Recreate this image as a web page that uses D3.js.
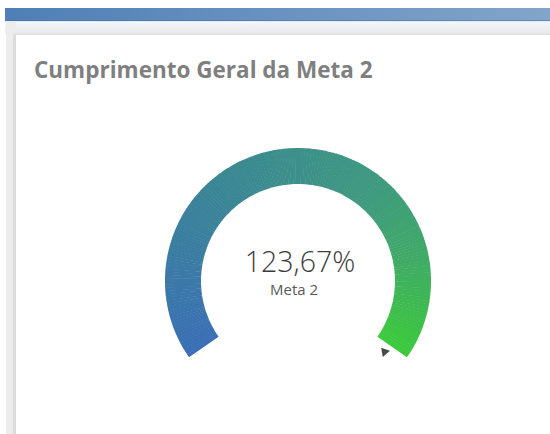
<!DOCTYPE html>
<html>
<head>
<meta charset="utf-8">
<script src="https://cdn.jsdelivr.net/npm/d3@7"></script>
<style>
  body { margin: 0; background: #fff; }
  svg { display: block; }
</style>
</head>
<body>
<script>
// Data // ----------------------------------------------------------------------
var titleText = "Cumprimento Geral da Meta 2";
var measureLabel = "Meta 2";
var gaugeValue = [1.2367];      // measure value (123,67%)
var gaugeRange = [0, 1];        // min / max of the gauge
var colorStops = [0, 0.33, 0.66, 0.82, 1];  // positions along the arc
var colorValues = ["#3b6fb6", "#3b8696", "#3f9a7f", "#40ab66", "#3cca3b"];

// Layout // --------------------------------------------------------------------
var width = 550, height = 434;
var cx = 298, cy = 281,
    outerR = 133, innerR = 97;
var deg = Math.PI / 180;

var svg = d3.select("body")
            .append("svg")
            .attr("width", width)
            .attr("height", height);

var defs = svg.append("defs");
var topGrad = defs.append("linearGradient").attr("id", "topbar");
topGrad.append("stop").attr("offset", "0%").attr("stop-color", "#4f7fb6");
topGrad.append("stop").attr("offset", "100%").attr("stop-color", "#82a5c9");

var bandGrad = defs.append("linearGradient").attr("id", "band")
                   .attr("x1", 0).attr("x2", 0).attr("y1", 0).attr("y2", 1);
bandGrad.append("stop").attr("offset", "0%").attr("stop-color", "#f3f6fa");
bandGrad.append("stop").attr("offset", "100%").attr("stop-color", "#e9eaec");

// page chrome (header bar, gray band, panel border)
svg.append("rect").attr("x", 5).attr("y", 8).attr("width", width - 5).attr("height", 13)
   .attr("fill", "url(#topbar)");
svg.append("rect").attr("x", 5).attr("y", 20).attr("width", width - 5).attr("height", 1.5)
   .attr("fill", "#4a6f9a").attr("opacity", 0.5);
svg.append("rect").attr("x", 5).attr("y", 21.5).attr("width", width - 5).attr("height", 12)
   .attr("fill", "url(#band)");
svg.append("rect").attr("x", 6).attr("y", 21.5).attr("width", 10).attr("height", height)
   .attr("fill", "#ededed");
svg.append("rect").attr("x", 13).attr("y", 33).attr("width", 3).attr("height", height)
   .attr("fill", "#dcdcdc");
svg.append("rect").attr("x", 13).attr("y", 33).attr("width", width).attr("height", 2)
   .attr("fill", "#e2e2e2");
svg.append("rect").attr("x", 16).attr("y", 35).attr("width", width).attr("height", height)
   .attr("fill", "#ffffff");

// title
svg.append("text")
   .attr("x", 34).attr("y", 78)
   .attr("font-family", "'Open Sans', 'DejaVu Sans', sans-serif")
   .attr("font-weight", "bold")
   .attr("font-size", 22.5)
   .attr("fill", "#7f7f7f")
   .text(titleText);

// Gauge // ---------------------------------------------------------------------
var angle = d3.scaleLinear()
              .domain(gaugeRange)
              .range([-125 * deg, 125 * deg])
              .clamp(true);

var color = d3.scaleLinear()
              .domain(colorStops.map(function(t) { return angle(gaugeRange[0] + t * (gaugeRange[1] - gaugeRange[0])); }))
              .range(colorValues)
              .interpolate(d3.interpolateRgb);

var arc = d3.arc().innerRadius(innerR).outerRadius(outerR);

var g = svg.append("g")
           .attr("transform", "translate(" + cx + "," + cy + ")");

// fill arc from min up to the (clamped) value, split in slices to fake the gradient
var a0 = angle(gaugeRange[0]), a1 = angle(gaugeValue[0]);
var nSeg = 180;
var segs = d3.range(nSeg).map(function(i) {
  return { s: a0 + (a1 - a0) * i / nSeg, e: a0 + (a1 - a0) * (i + 1) / nSeg };
});

g.selectAll("path.seg")
 .data(segs)
 .enter().append("path")
 .attr("class", "seg")
 .attr("d", function(d, i) {
   var extra = i < nSeg - 1 ? 0.004 : 0; // tiny overlap to hide seams
   return arc({ startAngle: d.s, endAngle: d.e + extra });
 })
 .attr("fill", function(d) { return color((d.s + d.e) / 2); });

// overflow marker (value beyond max) just past the end of the arc
var mAng = angle(gaugeValue[0]) + 3 * deg, mR = (innerR + outerR) / 2;
g.append("path")
 .attr("d", d3.symbol().type(d3.symbolTriangle).size(38))
 .attr("transform", "translate(" + (Math.sin(mAng) * mR - 4) + "," + (-Math.cos(mAng) * mR) + ") rotate(80)")
 .attr("fill", "#4a4a4a");

// center labels
var fmt = function(v) { return (v * 100).toFixed(2).replace(".", ",") + "%"; };
g.append("text")
 .attr("x", 2).attr("y", -9)
 .attr("text-anchor", "middle")
 .attr("font-family", "'Open Sans', 'DejaVu Sans', sans-serif")
 .attr("font-weight", 300)
 .attr("font-size", 28.5)
 .attr("fill", "#3c3c3c")
 .text(fmt(gaugeValue[0]));

g.append("text")
 .attr("x", -4).attr("y", 14)
 .attr("text-anchor", "middle")
 .attr("font-family", "'Open Sans', 'DejaVu Sans', sans-serif")
 .attr("font-size", 15)
 .attr("fill", "#5a5a5a")
 .text(measureLabel);
</script>
</body>
</html>
